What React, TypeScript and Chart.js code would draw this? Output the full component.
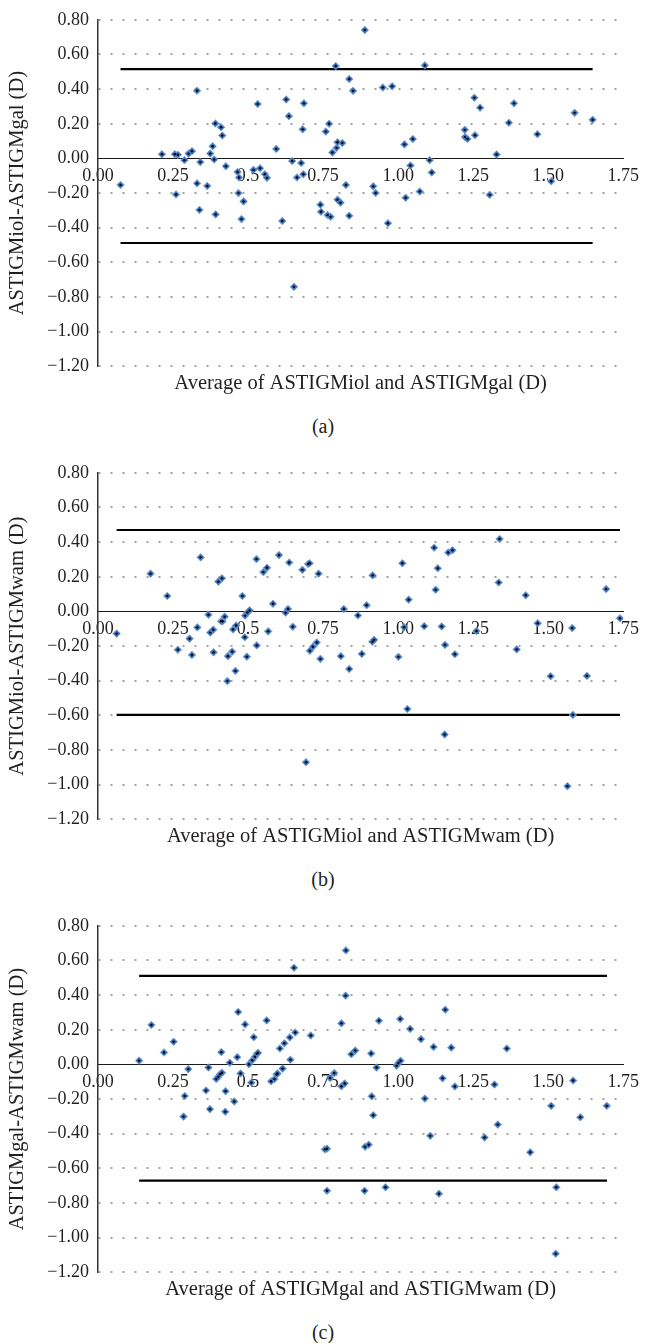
import React, { useEffect, useRef } from "react";
import { Chart, registerables } from "chart.js";

Chart.register(...registerables);

const xTickLabels = ["0.00", "0.25", "0.5", "0.75", "1.00", "1.25", "1.50", "1.75"];
const yTickLabels = ["\u22121.20", "\u22121.00", "\u22120.80", "\u22120.60", "\u22120.40", "\u22120.20", "0.00", "0.20", "0.40", "0.60", "0.80"];

// (a) ASTIGMiol vs ASTIGMgal
const aAvg = [0.075, 0.213, 0.256, 0.266, 0.26, 0.288, 0.302, 0.313, 0.33, 0.33, 0.341, 0.338, 0.364, 0.374, 0.382, 0.387, 0.391, 0.392, 0.41, 0.414, 0.426, 0.465, 0.468, 0.47, 0.485, 0.478, 0.518, 0.532, 0.54, 0.556, 0.563, 0.594, 0.614, 0.627, 0.636, 0.647, 0.653, 0.663, 0.677, 0.682, 0.684, 0.686, 0.741, 0.743, 0.759, 0.765, 0.77, 0.775, 0.781, 0.792, 0.795, 0.798, 0.798, 0.808, 0.814, 0.826, 0.837, 0.837, 0.85, 0.889, 0.917, 0.925, 0.949, 0.966, 0.98, 1.021, 1.025, 1.041, 1.049, 1.072, 1.089, 1.105, 1.112, 1.222, 1.223, 1.231, 1.254, 1.256, 1.273, 1.305, 1.328, 1.369, 1.386, 1.464, 1.51, 1.588, 1.648];
const aDiff = [-0.153, 0.024, 0.024, 0.021, -0.208, -0.01, 0.028, 0.042, 0.391, -0.144, -0.021, -0.297, -0.159, 0.028, 0.07, -0.006, 0.202, -0.323, 0.18, 0.132, -0.045, -0.078, -0.2, -0.11, -0.248, -0.35, -0.066, 0.314, -0.057, -0.091, -0.112, 0.055, -0.361, 0.34, 0.244, -0.015, -0.741, -0.11, -0.026, 0.168, -0.091, 0.318, -0.267, -0.308, 0.155, -0.327, 0.2, -0.337, 0.034, 0.533, 0.061, 0.093, -0.238, -0.255, 0.089, -0.153, 0.458, -0.331, 0.39, 0.741, -0.161, -0.199, 0.409, -0.374, 0.416, 0.081, -0.227, -0.041, 0.112, -0.191, 0.537, -0.01, -0.081, 0.165, 0.123, 0.112, 0.35, 0.134, 0.293, -0.21, 0.023, 0.206, 0.318, 0.14, -0.132, 0.263, 0.223];
const aLimits = [0.515, -0.488];
const aSpan = [0.075, 1.648];

// (b) ASTIGMiol vs ASTIGMwam
const bAvg = [0.062, 0.175, 0.231, 0.266, 0.305, 0.313, 0.331, 0.342, 0.368, 0.374, 0.384, 0.385, 0.401, 0.413, 0.41, 0.415, 0.422, 0.431, 0.433, 0.447, 0.45, 0.458, 0.46, 0.481, 0.489, 0.49, 0.496, 0.498, 0.505, 0.528, 0.529, 0.551, 0.563, 0.567, 0.583, 0.603, 0.625, 0.633, 0.637, 0.649, 0.681, 0.693, 0.7, 0.705, 0.706, 0.716, 0.729, 0.735, 0.741, 0.809, 0.819, 0.837, 0.866, 0.879, 0.895, 0.914, 0.915, 0.92, 1.001, 1.014, 1.02, 1.031, 1.035, 1.087, 1.12, 1.125, 1.132, 1.145, 1.155, 1.156, 1.167, 1.181, 1.189, 1.261, 1.335, 1.338, 1.395, 1.425, 1.465, 1.508, 1.564, 1.58, 1.582, 1.629, 1.693, 1.739];
const bDiff = [-0.128, 0.218, 0.089, -0.221, -0.157, -0.251, -0.092, 0.312, -0.019, -0.122, -0.105, -0.236, 0.172, 0.191, -0.057, -0.057, -0.03, -0.402, -0.258, -0.232, -0.104, -0.343, -0.081, 0.089, -0.149, -0.024, -0.261, -0.006, 0.006, 0.302, -0.196, 0.227, 0.252, -0.115, 0.044, 0.325, -0.007, 0.014, 0.282, -0.088, 0.24, -0.87, 0.274, 0.278, -0.227, -0.204, -0.179, 0.218, -0.274, -0.258, 0.014, -0.332, -0.023, -0.245, 0.036, -0.175, 0.208, -0.164, -0.262, 0.278, -0.091, -0.563, 0.068, -0.085, 0.368, 0.125, 0.249, -0.087, -0.71, -0.193, 0.34, 0.353, -0.247, -0.113, 0.167, 0.418, -0.219, 0.093, -0.068, -0.374, -1.008, -0.096, -0.597, -0.372, 0.129, -0.04];
const bLimits = [0.47, -0.597];
const bSpan = [0.062, 1.739];

// (c) ASTIGMgal vs ASTIGMwam
const cAvg = [0.137, 0.178, 0.22, 0.252, 0.285, 0.289, 0.301, 0.36, 0.368, 0.373, 0.394, 0.401, 0.407, 0.413, 0.411, 0.424, 0.425, 0.439, 0.454, 0.464, 0.467, 0.475, 0.49, 0.503, 0.511, 0.514, 0.519, 0.523, 0.529, 0.533, 0.562, 0.577, 0.588, 0.595, 0.598, 0.606, 0.615, 0.621, 0.639, 0.641, 0.653, 0.657, 0.709, 0.756, 0.763, 0.763, 0.773, 0.787, 0.811, 0.811, 0.822, 0.825, 0.826, 0.844, 0.857, 0.888, 0.89, 0.902, 0.91, 0.912, 0.917, 0.928, 0.936, 0.958, 0.995, 1.001, 1.007, 1.008, 1.04, 1.076, 1.089, 1.107, 1.118, 1.136, 1.148, 1.157, 1.177, 1.189, 1.288, 1.321, 1.332, 1.362, 1.44, 1.51, 1.525, 1.527, 1.583, 1.607, 1.695];
const cDiff = [0.022, 0.228, 0.069, 0.131, -0.301, -0.182, -0.027, -0.15, -0.018, -0.258, -0.084, -0.071, -0.056, -0.048, 0.071, -0.273, -0.154, 0.01, -0.214, 0.042, 0.303, -0.052, 0.231, 0.001, -0.105, 0.024, 0.157, 0.044, 0.061, 0.067, 0.254, -0.097, -0.084, -0.058, -0.052, 0.092, -0.024, 0.122, 0.156, 0.027, 0.558, 0.184, 0.167, -0.49, -0.486, -0.729, -0.078, -0.05, 0.237, -0.126, -0.11, 0.397, 0.658, 0.059, 0.08, -0.729, -0.475, -0.463, 0.063, -0.184, -0.293, -0.018, 0.252, -0.709, -0.007, 0.008, 0.262, 0.021, 0.205, 0.146, -0.197, -0.412, 0.101, -0.746, -0.08, 0.316, 0.097, -0.127, -0.422, -0.116, -0.347, 0.092, -0.507, -0.239, -1.092, -0.709, -0.093, -0.305, -0.239];
const cLimits = [0.511, -0.671];
const cSpan = [0.137, 1.696];

const FONT = "'Liberation Serif', 'Times New Roman', serif";
const TEXT = "#231f20";
const W = 646;
const H = 396;

type PanelProps = {
  top: number;
  avg: number[];
  diff: number[];
  limits: number[];
  span: number[];
  yTitle: string;
  xTitle: string;
  caption: string;
};

function Panel({ top, avg, diff, limits, span, yTitle, xTitle, caption }: PanelProps) {
  const ref = useRef<HTMLCanvasElement>(null);
  useEffect(() => {
    if (!ref.current) return;
    const pts = avg.map((x, i) => ({ x, y: diff[i] }));
    const line = (v: number) => [
      { x: span[0], y: v },
      { x: span[1], y: v },
    ];
    const chart = new Chart(ref.current, {
      type: "scatter",
      data: {
        datasets: [
          {
            data: pts,
            pointStyle: "circle",
            pointRadius: 1.2,
            pointHoverRadius: 1.2,
            backgroundColor: "#000",
            borderWidth: 0,
          },
          {
            data: pts,
            pointStyle: "rectRot",
            pointRadius: 3.8,
            pointHoverRadius: 3.8,
            backgroundColor: "#3f74b9",
            borderColor: "#7aa3d9",
            borderWidth: 0.8,
          },
          {
            data: line(limits[0]),
            showLine: true,
            borderColor: "#000",
            borderWidth: 2.2,
            pointRadius: 0,
          },
          {
            data: line(limits[1]),
            showLine: true,
            borderColor: "#000",
            borderWidth: 2.2,
            pointRadius: 0,
          },
        ],
      },
      options: {
        responsive: false,
        animation: false,
        events: [],
        layout: { padding: { top: 13, right: 19, bottom: 0, left: 0 } },
        plugins: {
          legend: { display: false },
          tooltip: { enabled: false },
          title: {
            display: true,
            fullSize: false,
            position: "bottom",
            text: xTitle,
            color: TEXT,
            font: { family: FONT, size: 20.5, weight: "normal" },
            padding: { top: 5, bottom: 0 },
          },
        },
        scales: {
          x: {
            type: "linear",
            position: { y: 0 } as any,
            min: 0,
            max: 1.75,
            ticks: {
              stepSize: 0.25,
              autoSkip: false,
              maxRotation: 0,
              padding: 7,
              color: TEXT,
              font: { family: FONT, size: 18 },
              callback: (_v: any, i: number) => xTickLabels[i],
            },
            grid: { display: false, drawTicks: false },
            border: { display: true, color: "#1a1a1a", width: 1 },
          },
          y: {
            type: "linear",
            position: "left",
            min: -1.2,
            max: 0.8,
            afterFit: (s: any) => {
              s.width = 98;
            },
            ticks: {
              stepSize: 0.2,
              padding: 9,
              color: TEXT,
              font: { family: FONT, size: 18 },
              callback: (_v: any, i: number) => yTickLabels[i],
            },
            grid: {
              drawTicks: false,
              lineWidth: 2,
              color: (ctx: any) =>
                ctx.tick && Math.abs(ctx.tick.value) < 1e-9 ? "rgba(0,0,0,0)" : "#a3a3a3",
            },
            border: { display: true, color: "#333", width: 1.5, dash: [2, 10] },
            title: {
              display: true,
              text: yTitle,
              color: TEXT,
              font: { family: FONT, size: 20.5 },
              padding: { top: 5, bottom: 0 },
            },
          },
        },
      } as any,
    });
    return () => chart.destroy();
  }, []);

  return (
    <>
      <div style={{ position: "absolute", top, left: 0, width: W, height: H }}>
        <canvas ref={ref} width={W} height={H} style={{ display: "block" }} />
      </div>
      <div
        style={{
          position: "absolute",
          top: top + 414,
          left: 0,
          width: W,
          textAlign: "center",
          fontFamily: FONT,
          fontSize: 20,
          lineHeight: "24px",
          color: TEXT,
        }}
      >
        {caption}
      </div>
    </>
  );
}

export default function App() {
  return (
    <div style={{ position: "absolute", top: 0, left: 0, width: W, height: 1343, background: "#fff" }}>
      <Panel
        top={0}
        avg={aAvg}
        diff={aDiff}
        limits={aLimits}
        span={aSpan}
        yTitle="ASTIGMiol-ASTIGMgal (D)"
        xTitle="Average of ASTIGMiol and ASTIGMgal (D)"
        caption="(a)"
      />
      <Panel
        top={453}
        avg={bAvg}
        diff={bDiff}
        limits={bLimits}
        span={bSpan}
        yTitle="ASTIGMiol-ASTIGMwam (D)"
        xTitle="Average of ASTIGMiol and ASTIGMwam (D)"
        caption="(b)"
      />
      <Panel
        top={906}
        avg={cAvg}
        diff={cDiff}
        limits={cLimits}
        span={cSpan}
        yTitle="ASTIGMgal-ASTIGMwam (D)"
        xTitle="Average of ASTIGMgal and ASTIGMwam (D)"
        caption="(c)"
      />
    </div>
  );
}
